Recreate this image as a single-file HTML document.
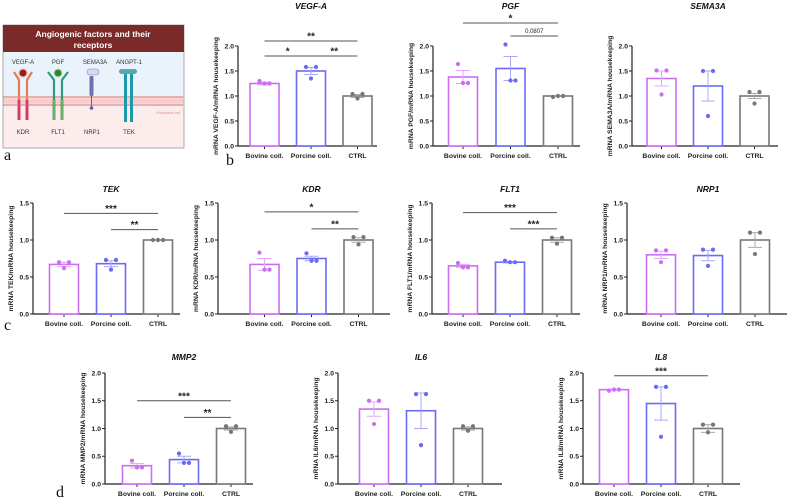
<!DOCTYPE html>
<html><head><meta charset="utf-8">
<style>
html,body{margin:0;padding:0;background:#fff;}
svg{display:block;font-family:"Liberation Sans",sans-serif;}
.tk{font-size:6.8px;font-weight:bold;fill:#222;}
.yl{font-size:6.8px;font-weight:bold;fill:#222;}
.tt{font-size:8.5px;font-weight:bold;font-style:italic;fill:#111;}
.sg{font-size:10px;font-weight:bold;fill:#222;}
.pl{font-size:16px;font-family:"Liberation Serif",serif;fill:#111;}
</style></head>
<body>
<svg id="fig" width="788" height="502" viewBox="0 0 788 502" xmlns="http://www.w3.org/2000/svg">
<g>
  <rect x="3" y="25" width="181" height="123" fill="#fdecec" stroke="#999" stroke-width="0.8"/>
  <rect x="3.5" y="52" width="180" height="44" fill="#eaf2fb"/>
  <rect x="3" y="25" width="181" height="27" fill="#7b2a2a"/>
  <text x="93" y="37" text-anchor="middle" font-size="8.5" font-weight="bold" fill="#fff">Angiogenic factors and their</text>
  <text x="93" y="48" text-anchor="middle" font-size="8.5" font-weight="bold" fill="#fff">receptors</text>
  <rect x="3.5" y="96" width="180" height="10" fill="#f6d6d6"/>
  <line x1="3.5" y1="97" x2="183.5" y2="97" stroke="#c55" stroke-width="1.2" stroke-dasharray="1,1"/>
  <line x1="3.5" y1="100" x2="183.5" y2="100" stroke="#e99" stroke-width="0.6" stroke-dasharray="1,1"/>
  <line x1="3.5" y1="102" x2="183.5" y2="102" stroke="#e99" stroke-width="0.6" stroke-dasharray="1,1"/>
  <line x1="3.5" y1="105" x2="183.5" y2="105" stroke="#c55" stroke-width="1.2" stroke-dasharray="1,1"/>
  <text x="180" y="114" text-anchor="end" font-size="3.5" font-style="italic" fill="#e88">Endothelial cell</text>
  <g font-size="6" fill="#333" text-anchor="middle">
    <text x="23" y="64">VEGF-A</text><text x="58" y="64">PGF</text><text x="95" y="64">SEMA3A</text><text x="129" y="64">ANGPT-1</text>
    <text x="23" y="134">KDR</text><text x="58" y="134">FLT1</text><text x="92" y="134">NRP1</text><text x="129" y="134">TEK</text>
  </g>
  <circle cx="23" cy="73" r="5" fill="#e9b5b5" opacity="0.6"/><circle cx="23" cy="73" r="3.5" fill="#9b1c1c"/>
  <circle cx="58" cy="73" r="5" fill="#b5e0b5" opacity="0.6"/><circle cx="58" cy="73" r="3.5" fill="#2a8a2a"/>
  <path d="M14 72 L19 80 L19 118 M32 72 L27 80 L27 118" stroke="#e87a50" stroke-width="2.2" fill="none"/>
  <rect x="17.5" y="100" width="3" height="20" fill="#d04060"/><rect x="25.5" y="100" width="3" height="20" fill="#d04060"/>
  <path d="M48 72 L54 80 L54 118 M68 72 L62 80 L62 118" stroke="#2a9a80" stroke-width="2.2" fill="none"/>
  <rect x="52.5" y="100" width="3" height="20" fill="#6aaa6a"/><rect x="60.5" y="100" width="3" height="20" fill="#6aaa6a"/>
  <rect x="87" y="69" width="12" height="6" rx="3" fill="#d8d8f0" stroke="#8888bb" stroke-width="0.6"/>
  <rect x="89.5" y="76" width="4" height="20" rx="1.5" fill="#7070b0"/><line x1="91.5" y1="96" x2="91.5" y2="108" stroke="#6a5aa0" stroke-width="1"/><circle cx="91.5" cy="108" r="1.8" fill="#6a5aa0"/>
  <rect x="119" y="69" width="18" height="5" rx="2.5" fill="#5aa8a8"/>
  <rect x="124" y="74" width="3" height="48" fill="#1a9aaa"/><rect x="130" y="74" width="3" height="48" fill="#1a9aaa"/>
</g>
<text class="pl" x="4" y="160">a</text>
<text class="pl" x="226" y="165">b</text>
<text class="pl" x="4" y="330">c</text>
<text class="pl" x="56" y="497">d</text>
<g id="charts"></g>
</svg>
<script>
const categories = ["Bovine coll.", "Porcine coll.", "CTRL"];
const titles = ["VEGF-A","PGF","SEMA3A","TEK","KDR","FLT1","NRP1","MMP2","IL6","IL8"];
const means = [[1.25,1.5,1.0],[1.38,1.55,1.0],[1.35,1.2,1.0],[0.67,0.68,1.0],[0.67,0.75,1.0],[0.65,0.7,1.0],[0.8,0.79,1.0],[0.33,0.44,1.0],[1.35,1.32,1.0],[1.7,1.45,1.0]];
const sems = [[0.03,0.07,0.03],[0.13,0.24,0.01],[0.15,0.3,0.05],[0.03,0.04,0.0],[0.08,0.03,0.03],[0.02,0.01,0.03],[0.05,0.07,0.1],[0.04,0.06,0.03],[0.13,0.32,0.03],[0.01,0.3,0.07]];
const points = [
 [[1.3,1.25,1.25],[1.58,1.58,1.35],[1.04,1.04,0.95]],
 [[1.64,1.26,1.26],[2.03,1.31,1.31],[0.98,1.0,1.0]],
 [[1.51,1.51,1.03],[1.5,1.5,0.6],[1.08,1.08,0.85]],
 [[0.7,0.7,0.62],[0.73,0.73,0.6],[1.0,1.0,1.0]],
 [[0.83,0.6,0.6],[0.82,0.72,0.72],[1.04,1.04,0.94]],
 [[0.69,0.63,0.63],[0.72,0.7,0.7],[1.03,1.03,0.95]],
 [[0.86,0.86,0.7],[0.87,0.87,0.65],[1.1,1.1,0.81]],
 [[0.42,0.3,0.3],[0.55,0.38,0.38],[1.04,1.04,0.94]],
 [[1.5,1.5,1.08],[1.62,1.62,0.7],[1.04,1.04,0.96]],
 [[1.68,1.7,1.7],[1.75,1.75,0.85],[1.07,1.07,0.93]]
];
const yMax = [2,2,2,1.5,1.5,1.5,1.5,2,2,2];
const sigBrackets = [
 [[0,2,2.1,"**"],[0,1,1.8,"*"],[1,2,1.8,"**"]],
 [[0,2,2.46,"*"],[1,2,2.2,"0.0807"]],
 [],
 [[0,2,1.36,"***"],[1,2,1.14,"**"]],
 [[0,2,1.38,"*"],[1,2,1.15,"**"]],
 [[0,2,1.37,"***"],[1,2,1.15,"***"]],
 [],
 [[0,2,1.5,"***"],[1,2,1.2,"**"]],
 [],
 [[0,2,1.95,"***"]]
];
// layout (pixels)
const layout = [
 {ax:238,end:377,b0:264.5,sp:46.5,top:46,base:146,ty:9},
 {ax:433,end:580,b0:463,sp:47.5,top:46,base:146,ty:9},
 {ax:632,end:778,b0:661.5,sp:46.5,top:46,base:146,ty:9},
 {ax:33,end:180,b0:64,sp:47,top:203,base:314,ty:192},
 {ax:218,end:390,b0:264.5,sp:47,top:203,base:314,ty:192},
 {ax:432,end:580,b0:463,sp:47,top:203,base:314,ty:192},
 {ax:627,end:787,b0:661,sp:47,top:203,base:314,ty:192},
 {ax:105,end:253,b0:137,sp:47,top:373,base:484,ty:360},
 {ax:338,end:502,b0:374,sp:47,top:373,base:484,ty:360},
 {ax:583,end:740,b0:614,sp:47,top:373,base:484,ty:360}
];
const colors = ["#cc6ef2","#6a6af5","#777777"];
const errColors = ["#e2aaf8","#aaaaf8","#aaaaaa"];
const NS="http://www.w3.org/2000/svg";
const root=document.getElementById('charts');
function mk(tag,attrs,parent){const e=document.createElementNS(NS,tag);for(const k in attrs)e.setAttribute(k,attrs[k]);parent.appendChild(e);return e;}
titles.forEach((t,i)=>{
  const L=layout[i], m=yMax[i];
  const g=mk('g',{},root);
  
  
  const y=v=>L.base-(v/m)*(L.base-L.top);
  const x=j=>L.b0+j*L.sp;
  const tt=mk('text',{x:x(1),y:L.ty,'text-anchor':'middle',class:'tt'},g);tt.textContent=t;
  
  
  const ya=mk('line',{x1:L.ax,y1:L.top,x2:L.ax,y2:L.base,stroke:'#222','stroke-width':1.2},g);
  
  
  const xa=mk('line',{x1:L.ax,y1:L.base,x2:L.end,y2:L.base,stroke:'#222','stroke-width':1.2},g);
  
  
  for(let v=0;v<=m+1e-9;v+=0.5){
    mk('line',{x1:L.ax-3,y1:y(v),x2:L.ax,y2:y(v),stroke:'#222','stroke-width':1},g);
    const tl=mk('text',{x:L.ax-4,y:y(v)+2.3,'text-anchor':'end',class:'tk'},g);tl.textContent=v.toFixed(1);
    
    
  }
  const yl=mk('text',{x:0,y:0,'text-anchor':'middle',class:'yl',transform:`translate(${L.ax-20},${(L.top+L.base)/2}) rotate(-90)`},g);
  yl.textContent='mRNA '+t+'/mRNA housekeeping';
  
  
  categories.forEach((c,j)=>{
    mk('line',{x1:x(j),y1:L.base,x2:x(j),y2:L.base+3,stroke:'#222','stroke-width':1},g);
    const cl=mk('text',{x:x(j),y:L.base+12,'text-anchor':'middle',class:'tk'},g);cl.textContent=c;
    
    
    const b=mk('rect',{x:x(j)-14.5,y:y(means[i][j]),width:29,height:L.base-y(means[i][j]),fill:'#fff',stroke:colors[j],'stroke-width':1.6},g);
    
    
    const e1=y(means[i][j]+sems[i][j]), e0=y(means[i][j]-sems[i][j]);
    const eb=mk('path',{d:`M${x(j)} ${e0} L${x(j)} ${e1} M${x(j)-7} ${e1} L${x(j)+7} ${e1} M${x(j)-7} ${e0} L${x(j)+7} ${e0}`,stroke:errColors[j],'stroke-width':1,fill:'none'},g);
    
    
    const pts=points[i][j];
    pts.forEach((p,k)=>{
      const off=[-5,5,0][k];
      const d=mk('circle',{cx:x(j)+off,cy:y(p),r:2.1,fill:colors[j]},g);
      
      
    });
  });
  sigBrackets[i].forEach(s=>{
    const sl=mk('line',{x1:x(s[0]),y1:y(s[2]),x2:x(s[1]),y2:y(s[2]),stroke:'#555','stroke-width':1},g);
    
    
    const isNum=/\d/.test(s[3]);
    const st=mk('text',{x:(x(s[0])+x(s[1]))/2,y:y(s[2])-(isNum?3:1.5),'text-anchor':'middle',class:'sg'},g);
    if(isNum) st.setAttribute('style','font-size:6px;font-weight:normal');
    st.textContent=s[3];
    
    
  });
});
</script>
</body></html>
